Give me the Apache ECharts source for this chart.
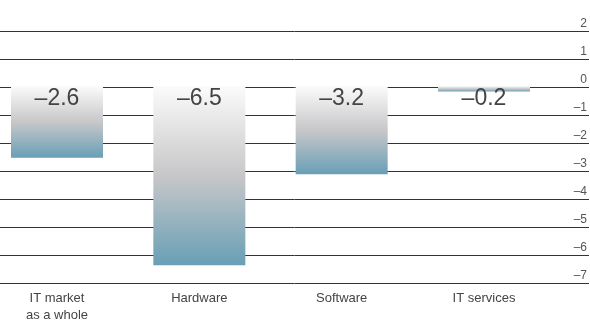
<!DOCTYPE html>
<html>
<head>
<meta charset="utf-8">
<script src="https://cdn.jsdelivr.net/npm/echarts@6/dist/echarts.min.js"></script>
<style>
  html, body { margin: 0; padding: 0; background: #fff; }
  #chart { width: 590px; height: 324px; }
</style>
</head>
<body>
<div id="chart"></div>
<script>
// Year-on-year change by IT segment, in percent
const categories = ['IT market\nas a whole', 'Hardware', 'Software', 'IT services'];
const changes = [-2.6, -6.5, -3.2, -0.2];

// Value axis range
const yMin = -7;
const yMax = 2;
const yStep = 1;

const dash = s => String(s).replace('-', '\u2013');

const barGradient = new echarts.graphic.LinearGradient(0, 0, 0, 1, [
  { offset: 0, color: '#fbfbfb' },
  { offset: 0.5, color: '#c7c7c9' },
  { offset: 1, color: '#689fb6' }
]);

const font = '"Liberation Sans", Arial, sans-serif';

const chart = echarts.init(document.getElementById('chart'), null, { renderer: 'canvas' });
chart.setOption({
  animation: false,
  grid: [
    // category centres run from the first to the last bar
    { left: 57, right: 106, top: 31, bottom: 41 },
    // full-width grid carrying the value scale and its lines
    { left: 0, right: 0, top: 31, bottom: 41 }
  ],
  xAxis: [
    {
      type: 'category', gridIndex: 0, data: categories, boundaryGap: false,
      axisLine: { show: false }, axisTick: { show: false },
      axisLabel: { color: '#444', fontSize: 13, fontFamily: font, margin: 11, lineHeight: 17 }
    },
    { type: 'value', gridIndex: 1, show: false, min: 0, max: 1 }
  ],
  yAxis: [
    { type: 'value', gridIndex: 0, min: yMin, max: yMax, interval: yStep, show: false },
    {
      type: 'value', gridIndex: 1, position: 'right', min: yMin, max: yMax, interval: yStep,
      axisLine: { show: false }, axisTick: { show: false },
      splitLine: { show: true, lineStyle: { color: '#333', width: 1 } },
      axisLabel: {
        inside: true, margin: 2, align: 'right', verticalAlign: 'bottom',
        padding: [0, 0, 1, 0],
        color: '#555', fontSize: 12, fontFamily: font,
        formatter: v => dash(v)
      }
    }
  ],
  series: [{
    type: 'bar',
    xAxisIndex: 0, yAxisIndex: 0,
    data: changes,
    barWidth: 92,
    clip: false,
    itemStyle: { color: barGradient },
    label: {
      show: true, position: 'insideTop', distance: 1,
      color: '#444', fontSize: 23, fontFamily: font,
      formatter: p => dash(p.value.toFixed(1))
    }
  }]
});
</script>
</body>
</html>
